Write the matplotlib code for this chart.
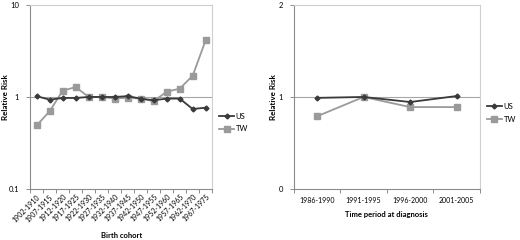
import numpy as np
import matplotlib.pyplot as plt

plt.rcParams['font.family'] = ['Lato', 'DejaVu Sans']

# Left panel: birth cohort
cohorts = ["1902-1910", "1907-1915", "1912-1920", "1917-1925", "1922-1930",
           "1927-1935", "1932-1940", "1937-1945", "1942-1950", "1947-1955",
           "1952-1960", "1957-1965", "1962-1970", "1967-1975"]
us_cohort = [1.02, 0.935, 0.975, 0.975, 1.0, 1.0, 1.0, 1.02, 0.96, 0.92,
             0.96, 0.96, 0.74, 0.765]
tw_cohort = [0.49, 0.70, 1.17, 1.28, 1.0, 1.0, 0.96, 0.98, 0.96, 0.90,
             1.14, 1.23, 1.70, 4.13]

# Right panel: period
periods = ["1986-1990", "1991-1995", "1996-2000", "2001-2005"]
us_period = [0.99, 1.0, 0.945, 1.01]
tw_period = [0.79, 1.0, 0.89, 0.89]

US_COL = "#3a3a3a"
TW_COL = "#9a9a9a"
GRID = "#a6a6a6"
FRAME = "#cfcfcf"


def style(ax, n, ylab_x):
    x = np.arange(n)
    ax.set_xlim(-0.5, n - 0.5)
    ax.set_xticks(x)
    ax.set_xticks(np.arange(n + 1) - 0.5, minor=True)
    ax.tick_params(axis="x", which="major", length=0, labelsize=5, pad=3)
    ax.tick_params(axis="x", which="minor", length=3, color="#8c8c8c", width=0.7)
    ax.tick_params(axis="y", which="major", length=3, color="#8c8c8c",
                   width=0.7, labelsize=5.5, pad=5)
    ax.tick_params(axis="y", which="minor", length=0)
    for s in ["top", "right"]:
        ax.spines[s].set_color(FRAME)
        ax.spines[s].set_linewidth(0.8)
    for s in ["left", "bottom"]:
        ax.spines[s].set_color("#8c8c8c")
        ax.spines[s].set_linewidth(0.8)
    ax.set_ylabel("Relative Risk", fontsize=5.8, fontweight="bold")
    ax.yaxis.set_label_coords(ylab_x, 0.5)
    return x


fig = plt.figure(figsize=(5.2, 2.4), dpi=100)

ax1 = fig.add_axes([0.058, 0.2125, 0.350, 0.767])
x1 = style(ax1, len(cohorts), -0.115)
ax1.set_yscale("log")
ax1.set_ylim(0.1, 10)
ax1.set_yticks([0.1, 1, 10])
ax1.set_yticklabels(["0.1", "1", "10"])
ax1.axhline(1, color=GRID, lw=0.8, zorder=1)
ax1.plot(x1, us_cohort, color=US_COL, marker="D", ms=2.5, lw=1.3, label="US", zorder=3)
ax1.plot(x1, tw_cohort, color=TW_COL, marker="s", ms=4, lw=1.3, label="TW", zorder=2)
ax1.set_xticklabels(cohorts, rotation=45, ha="right", rotation_mode="anchor")
ax1.set_xlabel("Birth cohort", fontsize=5.5, fontweight="bold", labelpad=6)
ax1.legend(loc="center left", bbox_to_anchor=(1.0, 0.36), frameon=False,
           fontsize=5.5, handlelength=2.0, handletextpad=0.2, labelspacing=0.7)

ax2 = fig.add_axes([0.565, 0.2125, 0.358, 0.767])
x2 = style(ax2, len(periods), -0.09)
ax2.set_ylim(0, 2)
ax2.set_yticks([0, 1, 2])
ax2.axhline(1, color=GRID, lw=0.8, zorder=1)
ax2.plot(x2, us_period, color=US_COL, marker="D", ms=2.5, lw=1.3, label="US", zorder=3)
ax2.plot(x2, tw_period, color=TW_COL, marker="s", ms=4, lw=1.3, label="TW", zorder=2)
ax2.set_xticklabels(periods)
ax2.tick_params(axis="x", which="major", pad=6)
ax2.set_xlabel("Time period at diagnosis", fontsize=5.5, fontweight="bold", labelpad=5)
ax2.legend(loc="center left", bbox_to_anchor=(1.0, 0.413), frameon=False,
           fontsize=5.5, handlelength=2.0, handletextpad=0.2, labelspacing=0.8)

fig.savefig("out.png", dpi=100)
